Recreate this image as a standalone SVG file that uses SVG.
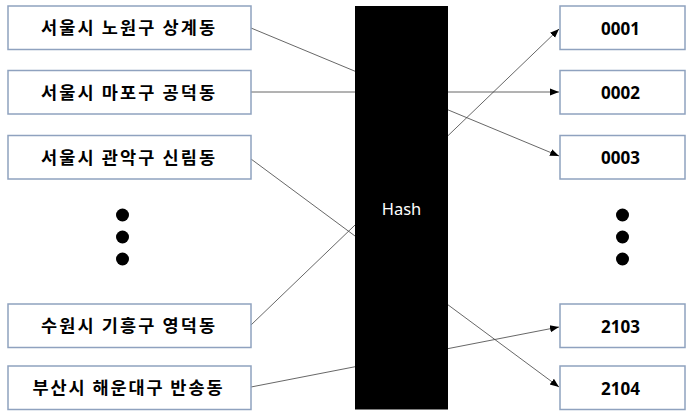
<svg xmlns="http://www.w3.org/2000/svg" width="689" height="415" viewBox="0 0 689 415">
<style>
.box{fill:#fff;stroke:#8fa2bf;stroke-width:1.5}
.lbl{font-family:"Noto Sans CJK KR","Malgun Gothic",sans-serif;font-weight:bold;font-size:17.5px;fill:#000;text-anchor:middle}
.num{font-family:"Open Sans","Noto Sans CJK KR",sans-serif;font-weight:bold;font-size:17px;fill:#000;text-anchor:middle}
.arr{fill:none;stroke:#404040;stroke-width:0.8;marker-end:url(#ah)}
.dot{fill:#000}
</style>
<defs>
<marker id="ah" viewBox="0 0 10 10" refX="10" refY="5" markerWidth="9" markerHeight="9" markerUnits="userSpaceOnUse" orient="auto">
<path d="M0,1 L10,5 L0,9 z" fill="#000"/>
</marker>
</defs>
<rect width="689" height="415" fill="#fff"/>
<g id="connectors">
<path class="arr" d="M251,28 L559,156"/>
<path class="arr" d="M251,92 L559,92"/>
<path class="arr" d="M251,159 L559,387"/>
<path class="arr" d="M251,325 L559,29"/>
<path class="arr" d="M251,387 L559,327"/>
</g>
<g id="src1"><rect class="box" x="8" y="6" width="243" height="43.5"/><text class="lbl" x="128" y="34" textLength="174" lengthAdjust="spacing">서울시 노원구 상계동</text></g>
<g id="src2"><rect class="box" x="8" y="70.5" width="243" height="43.5"/><text class="lbl" x="128" y="98.5" textLength="174" lengthAdjust="spacing">서울시 마포구 공덕동</text></g>
<g id="src3"><rect class="box" x="8" y="135.5" width="243" height="43.5"/><text class="lbl" x="128" y="163.5" textLength="174" lengthAdjust="spacing">서울시 관악구 신림동</text></g>
<g id="src4"><rect class="box" x="8" y="304" width="243" height="43.5"/><text class="lbl" x="128" y="332" textLength="174" lengthAdjust="spacing">수원시 기흥구 영덕동</text></g>
<g id="src5"><rect class="box" x="8" y="366" width="243" height="43.5"/><text class="lbl" x="127.5" y="394" textLength="190" lengthAdjust="spacing">부산시 해운대구 반송동</text></g>
<g id="leftDots"><circle class="dot" cx="122.5" cy="215" r="6.5"/><circle class="dot" cx="122.5" cy="237" r="6.5"/><circle class="dot" cx="122.5" cy="259" r="6.5"/></g>
<g id="hash"><rect x="355" y="6" width="93" height="403.5" fill="#000"/><text x="401.5" y="214.5" font-family="'Noto Sans','Open Sans',sans-serif" font-size="16.5" fill="#fff" text-anchor="middle">Hash</text></g>
<g id="dst1"><rect class="box" x="560" y="6" width="125" height="43.5"/><text class="num" x="620.5" y="34.5">0001</text></g>
<g id="dst2"><rect class="box" x="560" y="70.5" width="125" height="43.5"/><text class="num" x="620.5" y="99">0002</text></g>
<g id="dst3"><rect class="box" x="560" y="135.5" width="125" height="43.5"/><text class="num" x="620.5" y="164">0003</text></g>
<g id="dst4"><rect class="box" x="560" y="304" width="125" height="43.5"/><text class="num" x="620.5" y="332.5">2103</text></g>
<g id="dst5"><rect class="box" x="560" y="366" width="125" height="43.5"/><text class="num" x="620.5" y="394.5">2104</text></g>
<g id="rightDots"><circle class="dot" cx="622.5" cy="215" r="6.5"/><circle class="dot" cx="622.5" cy="237" r="6.5"/><circle class="dot" cx="622.5" cy="259" r="6.5"/></g>
</svg>
